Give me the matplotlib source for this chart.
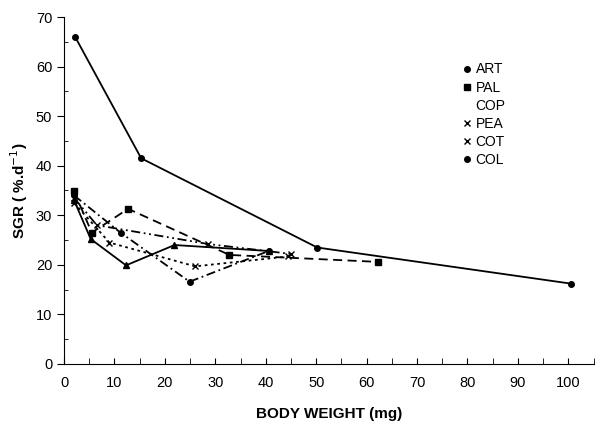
import matplotlib.pyplot as plt
from matplotlib.lines import Line2D
from matplotlib.ticker import MultipleLocator

plt.rcParams['font.family'] = ['Liberation Sans', 'DejaVu Sans']

# body weight (mg) and SGR (%.d-1)
art_x = [2.2, 15.3, 50.2, 100.6]
art_y = [66.0, 41.5, 23.5, 16.2]

pal_x = [2.0, 5.5, 12.7, 32.8, 62.2]
pal_y = [34.8, 26.5, 31.3, 22.0, 20.6]

cop_x = [2.0, 5.3, 12.3, 21.9, 40.6]
cop_y = [33.0, 25.2, 19.9, 24.0, 22.8]

pea_x = [2.0, 6.5, 28.6, 45.0]
pea_y = [33.5, 28.0, 24.2, 22.2]

cot_x = [2.0, 9.0, 26.0, 44.5]
cot_y = [32.5, 24.5, 19.7, 21.7]

col_x = [2.0, 11.2, 24.9, 40.6]
col_y = [34.0, 26.5, 16.6, 22.8]

labels = ["ART", "PAL", "COP", "PEA", "COT", "COL"]

fig = plt.figure(figsize=(5.95, 4.23), dpi=100)
ax = fig.add_axes([0.1076, 0.1395, 0.89, 0.8203])

k = dict(color="black", lw=1.3, ms=4)
ax.plot(art_x, art_y, "-", marker="o", **k)
ax.plot(pal_x, pal_y, linestyle=(0, (5, 3)), marker="s", **k)
ax.plot(cop_x, cop_y, "-", marker="^", **k)
ax.plot(pea_x, pea_y, linestyle=(0, (5, 2, 1, 2, 1, 2)), marker="x", **k)
ax.plot(cot_x, cot_y, linestyle=(0, (1.5, 2)), marker="x", **k)
ax.plot(col_x, col_y, linestyle=(0, (5, 2, 1, 2)), marker="o", **k)

ax.set_xlim(0, 105)
ax.set_ylim(0, 70)
ax.xaxis.set_major_locator(MultipleLocator(10))
ax.xaxis.set_minor_locator(MultipleLocator(5))
ax.yaxis.set_major_locator(MultipleLocator(10))
ax.yaxis.set_minor_locator(MultipleLocator(5))
ax.tick_params(axis="x", which="both", direction="in", length=4, labelsize=10.5, pad=9)
ax.tick_params(axis="y", which="major", direction="out", length=5, labelsize=10.5)
ax.tick_params(axis="y", which="minor", direction="in", length=3)
ax.spines["top"].set_visible(False)
ax.spines["right"].set_visible(False)

ax.set_xlabel("BODY WEIGHT (mg)", fontsize=11, fontweight="bold", labelpad=12)
ax.set_ylabel("SGR ( %.d$^{-1}$)", fontsize=11, fontweight="bold")

handles = [
    Line2D([], [], color="black", marker="o", ls="none", ms=4),
    Line2D([], [], color="black", marker="s", ls="none", ms=4),
    Line2D([], [], color="black", marker="none", ls="none", ms=4),
    Line2D([], [], color="black", marker="x", ls="none", ms=4),
    Line2D([], [], color="black", marker="x", ls="none", ms=4),
    Line2D([], [], color="black", marker="o", ls="none", ms=4),
]
ax.legend(handles, labels, loc="upper left", bbox_to_anchor=(0.73, 0.905),
          frameon=False, fontsize=10, handlelength=0.6, handletextpad=0.3,
          labelspacing=0.3)

fig.savefig("out.png", dpi=100)
